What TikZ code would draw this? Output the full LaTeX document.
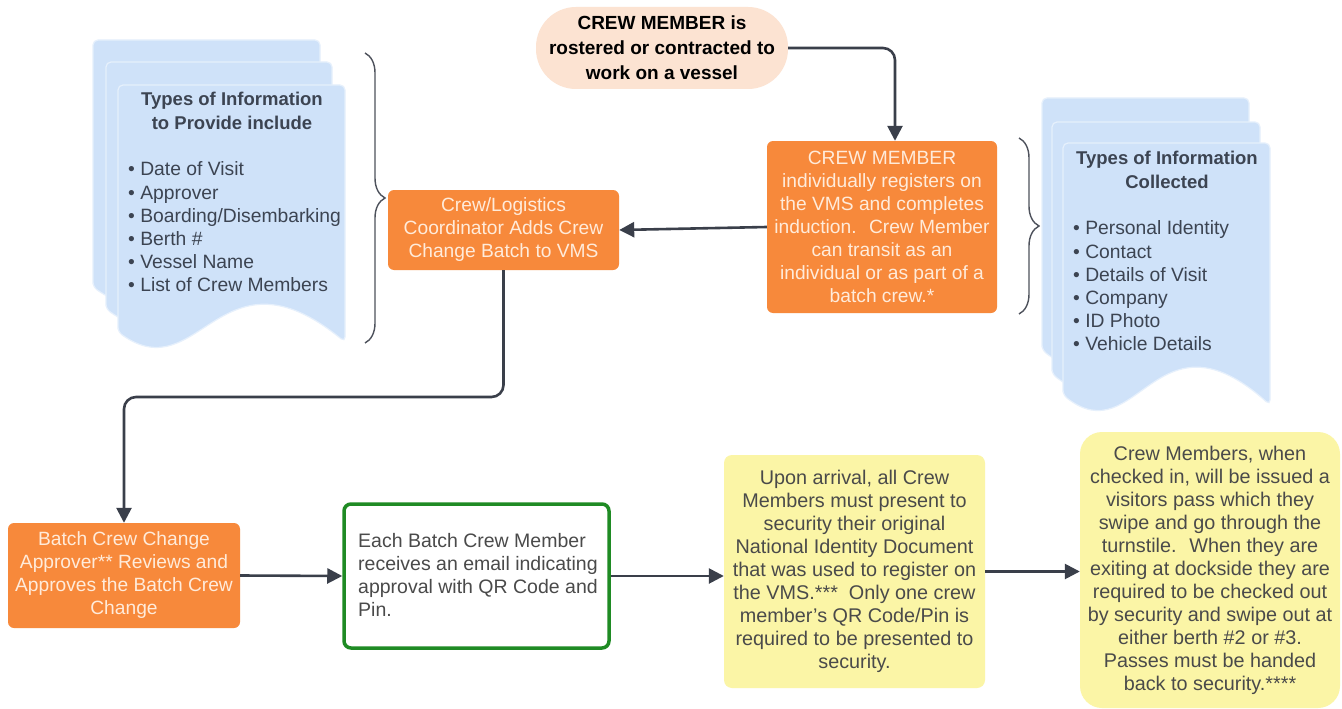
\documentclass[tikz,border=0pt]{standalone}
\usepackage{fontspec}
\setmainfont{Liberation Sans}
\usetikzlibrary{arrows.meta,decorations.pathreplacing,calc}
\definecolor{orng}{HTML}{F7893B}
\definecolor{orngtxt}{HTML}{FFEBDA}
\definecolor{peach}{HTML}{FCE3D2}
\definecolor{sheetblue}{HTML}{CFE2F9}
\definecolor{sheetedge}{HTML}{E6F0FC}
\definecolor{yell}{HTML}{FBF5A6}
\definecolor{grn}{HTML}{1F8B24}
\definecolor{arrowc}{HTML}{3A3F4A}
\definecolor{stacktxt}{HTML}{3C4452}
\definecolor{graytxt}{HTML}{4A4A4A}
\newcommand\docsheet[4]{%
  \filldraw[sheet] (#1,{#4-10}) -- (#1,#2) -- (#3,#2) -- (#3,#4)
    .. controls ({#3-0.55*(#3-#1)},{#4-102}) and ({#3-0.64*(#3-#1)},{#4+48}) .. (#1,{#4-10}) -- cycle;}
\begin{document}
\begin{tikzpicture}[x=1pt,y=-1pt,
  sheet/.style={fill=sheetblue,draw=sheetedge,line width=1.2pt,rounded corners=5pt},
  orangebox/.style={fill=orng,draw=none,rounded corners=6pt,text=orngtxt,align=center,
    font=\fontsize{19.2}{23}\selectfont,inner sep=0pt},
  yellowbox/.style={fill=yell,draw=none,rounded corners=8pt,text=graytxt,align=center,
    font=\fontsize{19.8}{23}\selectfont,inner sep=0pt},
  conn/.style={draw=arrowc,line width=2.6pt,rounded corners=12pt,
    -{Triangle[length=15pt,width=15pt]}},
  bracestyle/.style={draw=arrowc!90,line width=1.4pt,decorate,decoration={brace,amplitude=20pt}},
  stacktitle/.style={text=stacktxt,font=\bfseries\fontsize{18.5}{23.5}\selectfont,align=center,inner sep=0pt},
  stacklist/.style={text=stacktxt,font=\fontsize{19.3}{23.2}\selectfont,align=left,inner sep=0pt,anchor=west}
]
\useasboundingbox[fill=white] (0,0) rectangle (1342,709);

% left document stack
\docsheet{93}{40}{320}{297}
\docsheet{106}{62}{332}{319}
\docsheet{118}{85}{345}{342}
\node[stacktitle] (ltitle) at (232,111) {Types of Information\\to Provide include};
\node[stacklist] (llist) at (128,227) {• Date of Visit\\• Approver\\• Boarding/Disembarking\\• Berth \#\\• Vessel Name\\• List of Crew Members};

% right document stack
\docsheet{1042}{98}{1249}{360}
\docsheet{1052}{122}{1260}{384}
\docsheet{1063}{143}{1270}{405}
\node[stacktitle] (rtitle) at (1167,170) {Types of Information\\Collected};
\node[stacklist] (rlist) at (1073,286) {• Personal Identity\\• Contact\\• Details of Visit\\• Company\\• ID Photo\\• Vehicle Details};

% braces
\draw[bracestyle] (365,53) -- (365,343);
\draw[bracestyle] (1019,138) -- (1019,314);

% nodes
\node[fill=peach,rounded corners=40pt,minimum width=252pt,minimum height=82pt,inner sep=0pt,
  align=center,font=\bfseries\fontsize{19}{25}\selectfont,text=black] (pill) at (662,48)
  {CREW MEMBER is\\rostered or contracted to\\work on a vessel};
\node[orangebox,minimum width=230pt,minimum height=172pt] (o1) at (882,227)
  {CREW MEMBER\\individually registers on\\the VMS and completes\\induction.~ Crew Member\\can transit as an\\individual or as part of a\\batch crew.*};
\node[orangebox,minimum width=231pt,minimum height=80pt] (o2) at (503.5,230)
  {Crew/Logistics\\Coordinator Adds Crew\\Change Batch to VMS};
\node[orangebox,minimum width=232pt,minimum height=105pt] (o3) at (124,575.5)
  {Batch Crew Change\\Approver** Reviews and\\Approves the Batch Crew\\Change};
\node[draw=grn,line width=3.5pt,fill=white,rounded corners=7pt,minimum width=265pt,minimum height=144pt,
  inner sep=0pt] (g) at (476.5,576) {};
\node[anchor=west,inner sep=0pt,align=left,text=graytxt,font=\fontsize{19.5}{23}\selectfont] (gtext)
  at (358,575) {Each Batch Crew Member\\receives an email indicating\\approval with QR Code and\\Pin.};
\node[yellowbox,minimum width=261pt,minimum height=233pt] (y1) at (854.5,571.5)
  {Upon arrival, all Crew\\Members must present to\\security their original\\National Identity Document\\that was used to register on\\the VMS.***~ Only one crew\\member's QR Code/Pin is\\required to be presented to\\security.};
\node[yellowbox,rounded corners=22pt,minimum width=260pt,minimum height=276pt] (y2) at (1210,570)
  {Crew Members, when\\checked in, will be issued a\\visitors pass which they\\swipe and go through the\\turnstile.~ When they are\\exiting at dockside they are\\required to be checked out\\by security and swipe out at\\either berth \#2 or \#3.\\Passes must be handed\\back to security.****};

% connectors
\draw[conn] (pill.east) -| ([xshift=13pt]o1.north);
\draw[conn] (o1.west) -- (o2.east);
\coordinate (bend) at (124,397);
\draw[conn] (o2.south) |- (bend) -- (o3.north);
\draw[conn] (o3.east) -- (g.west);
\draw[conn] (g.east) -- (y1.west |- g.east);
\draw[conn] (y1.east) -- (y2.west |- y1.east);
\end{tikzpicture}
\end{document}
